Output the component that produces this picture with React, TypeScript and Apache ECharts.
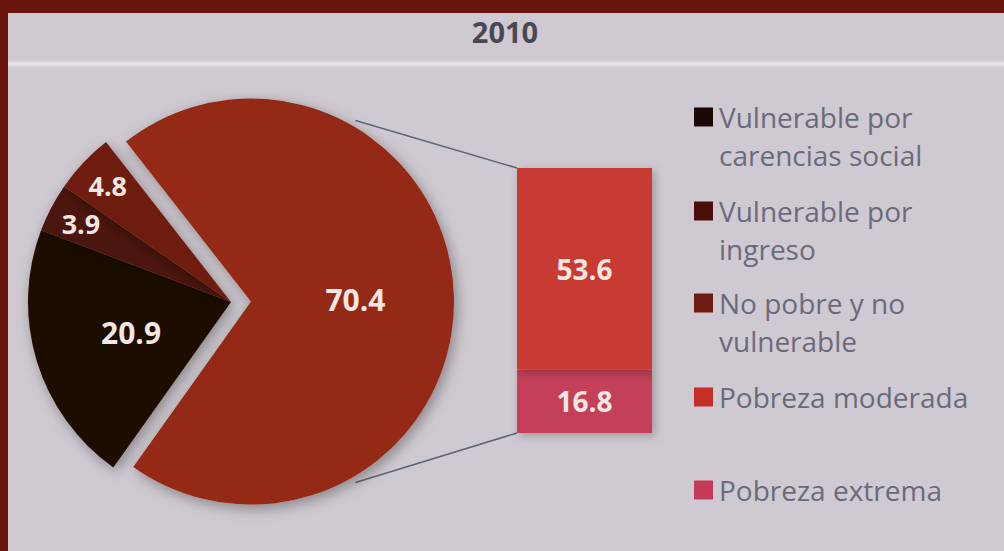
import React, { useEffect, useRef } from "react";
import * as echarts from "echarts";

// ---- data ----
const TITLE = "2010";
const pieNames = [
  "Pobreza",
  "Vulnerable por carencias social",
  "Vulnerable por ingreso",
  "No pobre y no vulnerable",
];
const pieValues = [70.4, 20.9, 3.9, 4.8];
const pieColors = ["#942912", "#1f0a05", "#4c1208", "#6e1d0d"];

const barCategories = ["2010"];
const barNames = ["Pobreza extrema", "Pobreza moderada"];
const barValues = [[16.8], [53.6]];
const barColors = ["#c33f58", "#c73a30"];

const legendLabels = [
  ["Vulnerable por", "carencias social"],
  ["Vulnerable por", "ingreso"],
  ["No pobre y no", "vulnerable"],
  ["Pobreza moderada"],
  ["Pobreza extrema"],
];
const legendColors = ["#1a0806", "#4a0f08", "#6e1a0e", "#c43028", "#c43a58"];

// ---- layout ----
const W = 1004;
const H = 551;
const CX = 231;
const CY = 302;
const R = 203;
const OFFSET = 20;
const START = 128;
const BAR_LEFT = 517;
const BAR_TOP = 168;
const BAR_W = 135;
const BAR_H = 265;
const FONT = "'Open Sans', Lato, sans-serif";

export default function App() {
  const ref = useRef<HTMLDivElement>(null);
  useEffect(() => {
    document.body.style.margin = "0";
    const chart = echarts.init(ref.current!, null, { renderer: "svg" });
    const total = pieValues.reduce((a, b) => a + b, 0);
    const mid = ((START - (pieValues[0] / total) * 360 / 2) * Math.PI) / 180;
    const bcx = CX + OFFSET * Math.cos(mid);
    const bcy = CY - OFFSET * Math.sin(mid);
    const a = (60 * Math.PI) / 180;
    const p1 = [bcx + (R + 6) * Math.cos(a), bcy - (R + 6) * Math.sin(a)];
    const p2 = [bcx + (R + 6) * Math.cos(a), bcy + (R + 6) * Math.sin(a)];

    const legendGraphics: any[] = [];
    const legendY = [117, 211, 303, 397, 490];
    legendLabels.forEach((lines, i) => {
      legendGraphics.push({
        type: "rect",
        shape: { x: 694, y: legendY[i] - 9.5, width: 19, height: 19 },
        style: { fill: legendColors[i] },
      });
      lines.forEach((t, j) => {
        legendGraphics.push({
          type: "text",
          x: 719,
          y: legendY[i] + j * 38,
          style: {
            text: t,
            fill: "#6b6a7b",
            font: `28px ${FONT}`,
            textVerticalAlign: "middle",
          },
        });
      });
    });

    const labelStyle = {
      color: "#f4e6e2",
      fontFamily: FONT,
      fontWeight: "bold" as const,
      fontSize: 30,
      formatter: "{c}",
    };

    chart.setOption({
      animation: false,
      backgroundColor: "#cfcad1",
      graphic: [
        { type: "rect", shape: { x: 0, y: 0, width: W, height: 13 }, style: { fill: "#6a1410" }, z: 100 },
        { type: "rect", shape: { x: 0, y: 0, width: 8, height: H }, style: { fill: "#6a1410" }, z: 100 },
        {
          type: "rect",
          shape: { x: 8, y: 60, width: W - 8, height: 8 },
          style: {
            fill: new echarts.graphic.LinearGradient(0, 0, 0, 1, [
              { offset: 0, color: "rgba(232,229,234,0)" },
              { offset: 0.5, color: "rgba(236,233,238,1)" },
              { offset: 1, color: "rgba(232,229,234,0)" },
            ]),
          },
          z: -1,
        },
        {
          type: "text",
          x: 505,
          y: 31,
          style: {
            text: TITLE,
            fill: "#4a4852",
            font: `bold 29px ${FONT}`,
            textAlign: "center",
            textVerticalAlign: "middle",
          },
        },
        { type: "line", shape: { x1: p1[0], y1: p1[1], x2: BAR_LEFT, y2: BAR_TOP }, style: { stroke: "#5e6676", lineWidth: 1.5 }, z: -1 },
        { type: "line", shape: { x1: p2[0], y1: p2[1], x2: BAR_LEFT, y2: BAR_TOP + BAR_H }, style: { stroke: "#5e6676", lineWidth: 1.5 }, z: -1 },
        ...legendGraphics,
      ],
      grid: { left: BAR_LEFT, top: BAR_TOP, width: BAR_W, height: BAR_H },
      xAxis: { type: "category", data: barCategories, show: false },
      yAxis: { type: "value", min: 0, max: pieValues[0], show: false },
      series: [
        {
          type: "pie",
          center: [CX, CY],
          radius: [0, R],
          startAngle: START,
          clockwise: true,
          selectedMode: "single",
          selectedOffset: OFFSET,
          silent: true,
          label: { show: true, position: "inside", ...labelStyle },
          labelLine: { show: false },
          itemStyle: {
            shadowBlur: 14,
            shadowColor: "rgba(0,0,0,0.35)",
            shadowOffsetX: 3,
            shadowOffsetY: 4,
          },
          data: pieValues.map((v, i) => ({
            name: pieNames[i],
            value: v,
            selected: i === 0,
            itemStyle: { color: pieColors[i] },
            select: { itemStyle: { color: pieColors[i], borderWidth: 0 } },
            label: { show: i < 2 },
          })),
        },
        {
          type: "pie",
          center: [CX, CY],
          radius: [130, R],
          startAngle: START,
          clockwise: true,
          silent: true,
          z: 3,
          label: { show: true, position: "inside", ...labelStyle, fontSize: 27 },
          labelLine: { show: false },
          data: pieValues.map((v, i) => ({
            name: pieNames[i] + " ",
            value: v,
            itemStyle: { color: "rgba(0,0,0,0)" },
            label: { show: i >= 2 },
          })),
        },
        ...barNames.map((n, i) => ({
          type: "bar",
          name: n,
          stack: "p",
          barWidth: "100%",
          data: barValues[i],
          silent: true,
          itemStyle: {
            color: barColors[i],
            shadowBlur: 10,
            shadowColor: "rgba(0,0,0,0.25)",
            shadowOffsetX: 3,
            shadowOffsetY: 3,
          },
          label: { show: true, position: "inside", ...labelStyle, fontSize: 28 },
        })),
      ],
    });
    return () => chart.dispose();
  }, []);
  return <div ref={ref} style={{ width: W, height: H }} />;
}
